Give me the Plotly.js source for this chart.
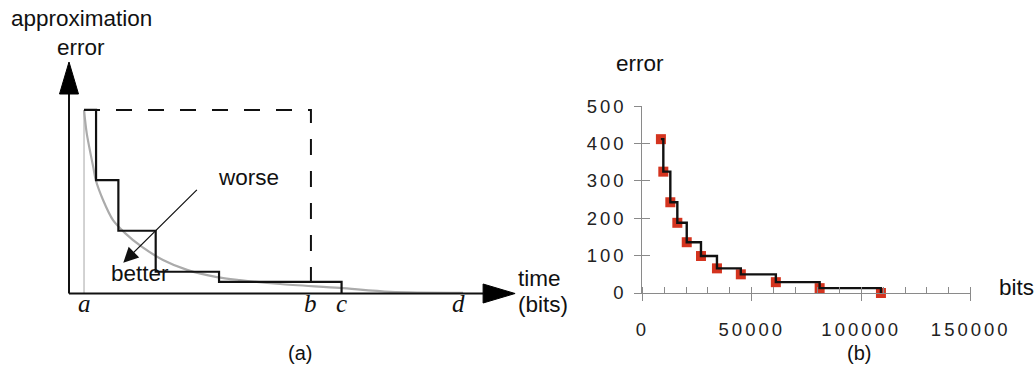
<!DOCTYPE html>
<html><head><meta charset="utf-8">
<script src="https://cdn.plot.ly/plotly-3.0.1.min.js"></script>
<style>
html,body{margin:0;padding:0;background:#fff;}
#chart{width:1036px;height:367px;}
.xtick text, .ytick text { letter-spacing: 3px; }
</style></head><body><div id="chart"></div>
<script>
// ---------- Panel (b): measured error vs bits ----------
const bitsValues  = [8500, 9600, 12800, 16000, 20300, 26800, 34100, 45000, 61000, 81000, 109000];
const errorValues = [412, 325, 243, 188, 136, 99, 66, 50, 29, 13, 0];
const bitsTickValues  = [0, 50000, 100000, 150000];
const bitsTickLabels  = ['0', '50000', '100000', '150000'];
const errorTickValues = [0, 100, 200, 300, 400, 500];
const errorTickLabels = ['0', '100', '200', '300', '400', '500'];

// ---------- Panel (a): schematic (abstract units) ----------
const stepTime  = [1.01, 1.82, 3.32, 5.83, 10.09, 18.33];
const stepError = [7.93, 4.90, 2.71, 0.94, 0.50, 0];
const curveTime  = [1.01, 1.19, 1.63, 1.80, 2.29, 2.96, 3.77, 4.91, 6.32, 7.94, 9.95, 11.5, 14.2, 18.2, 21.6, 26.5];
const curveError = [7.93, 6.93, 5.46, 4.90, 4.04, 3.17, 2.61, 2.01, 1.45, 1.02, 0.71, 0.58, 0.41, 0.24, 0.07, 0.03];
const markLabels = ['a', 'b', 'c', 'd'];
const markTimes  = [1.01, 16.27, 18.33, 26.2];
const boundError = 7.93;

// ---------- geometry helpers ----------
const W = 1036, H = 367;
const px = v => v / W;
const py = v => 1 - v / H;
// panel (a) axis placement
const A = {x0: 69, xs: 14.87, y0: 293.5, ys: 23.15, xr: [-2, 31], yr: [-1, 10.5], xEnd: 30, yEnd: 10};
const aXdom = [px(A.x0 + A.xr[0]*A.xs), px(A.x0 + A.xr[1]*A.xs)];
const aYdom = [py(A.y0 - A.yr[0]*A.ys), py(A.y0 - A.yr[1]*A.ys)];
const xHeadLen = 32 / A.xs, xHeadHalf = 9.5 / A.ys;
const yHeadLen = 32 / A.ys, yHeadHalf = 9.5 / A.xs;

const SANS = 'Liberation Sans, Arial, sans-serif';
const SERIF = 'Liberation Serif, Times New Roman, serif';
const axGray = '#8a8a8a';

const traces = [
  // panel (a)
  {x: [markTimes[0], markTimes[0]], y: [0, boundError], xaxis: 'x2', yaxis: 'y2', mode: 'lines',
   line: {color: '#c4c4c4', width: 1.5}, hoverinfo: 'skip', cliponaxis: false},
  {x: curveTime, y: curveError, xaxis: 'x2', yaxis: 'y2', mode: 'lines',
   line: {color: '#ababab', width: 2.2, shape: 'spline', smoothing: 0.8}, hoverinfo: 'skip', cliponaxis: false},
  {x: [markTimes[0], markTimes[1], markTimes[1]], y: [boundError, boundError, 0], xaxis: 'x2', yaxis: 'y2', mode: 'lines',
   line: {color: '#111', width: 2, dash: '16px,16px'}, hoverinfo: 'skip', cliponaxis: false},
  {x: stepTime, y: stepError, xaxis: 'x2', yaxis: 'y2', mode: 'lines',
   line: {color: '#111', width: 2.2, shape: 'hv'}, hoverinfo: 'skip', cliponaxis: false},
  // panel (b)
  {x: bitsValues, y: errorValues, xaxis: 'x', yaxis: 'y', mode: 'markers',
   marker: {symbol: 'square', size: 10, color: '#d4341f'}, cliponaxis: false},
  {x: bitsValues, y: errorValues, xaxis: 'x', yaxis: 'y', mode: 'lines',
   line: {color: '#111', width: 2.4, shape: 'hv'}, cliponaxis: false},
  // carriers for overlay tick axes
  {x: [], y: [], xaxis: 'x3', yaxis: 'y', mode: 'markers', hoverinfo: 'skip'},
  {x: [], y: [], xaxis: 'x', yaxis: 'y4', mode: 'markers', hoverinfo: 'skip'}
];

const tickFont = {family: SANS, size: 18.5, color: '#222'};
const bXdom = [px(642.3), px(970.7)];
const bYdom = [py(293), py(106.3)];

const layout = {
  width: W, height: H, margin: {l: 0, r: 0, t: 0, b: 0},
  paper_bgcolor: '#fff', plot_bgcolor: 'rgba(0,0,0,0)', showlegend: false,
  xaxis: {domain: bXdom, range: [0, 150000], anchor: 'y', tickvals: bitsTickValues, ticktext: bitsTickLabels,
          ticks: 'outside', ticklen: 7, tickwidth: 1, tickcolor: axGray, showline: true, linecolor: axGray, linewidth: 1,
          showgrid: false, zeroline: false, tickfont: tickFont, ticklabelstandoff: 13,
          minor: {dtick: 10000, tick0: 0, ticks: 'inside', ticklen: 6, tickcolor: axGray, tickwidth: 1, showgrid: false}},
  yaxis: {domain: bYdom, range: [0, 500], anchor: 'x', tickvals: errorTickValues, ticktext: errorTickLabels,
          ticks: 'outside', ticklen: 7, tickwidth: 1, tickcolor: axGray, showline: true, linecolor: axGray, linewidth: 1,
          showgrid: false, zeroline: false, tickfont: tickFont, ticklabelstandoff: 4},
  xaxis3: {overlaying: 'x', anchor: 'y', range: [0, 150000], tickvals: bitsTickValues, ticks: 'inside', ticklen: 6,
           tickcolor: axGray, tickwidth: 1, showticklabels: false, showgrid: false, zeroline: false, showline: false},
  yaxis4: {overlaying: 'y', anchor: 'x', range: [0, 500], tickvals: errorTickValues, ticks: 'inside', ticklen: 8,
           tickcolor: axGray, tickwidth: 1, showticklabels: false, showgrid: false, zeroline: false, showline: false},
  xaxis2: {domain: aXdom, range: A.xr, anchor: 'y2', visible: false},
  yaxis2: {domain: aYdom, range: A.yr, anchor: 'x2', visible: false},
  shapes: [
    {type: 'line', xref: 'x2', yref: 'y2', x0: 0, y0: 0, x1: A.xEnd - xHeadLen, y1: 0, line: {color: '#111', width: 2}},
    {type: 'line', xref: 'x2', yref: 'y2', x0: 0, y0: 0, x1: 0, y1: A.yEnd - yHeadLen, line: {color: '#111', width: 2}},
    {type: 'path', xref: 'x2', yref: 'y2',
     path: `M ${A.xEnd - xHeadLen},${-xHeadHalf} L ${A.xEnd},0 L ${A.xEnd - xHeadLen},${xHeadHalf} Z`,
     fillcolor: '#000', line: {color: '#000', width: 1}},
    {type: 'path', xref: 'x2', yref: 'y2',
     path: `M ${-yHeadHalf},${A.yEnd - yHeadLen} L 0,${A.yEnd} L ${yHeadHalf},${A.yEnd - yHeadLen} Z`,
     fillcolor: '#000', line: {color: '#000', width: 1}}
  ],
  annotations: []
};

const txt = (text, x, y, size, xanchor, family) => ({
  text, x: px(x), y: py(y), xref: 'paper', yref: 'paper', xanchor: xanchor || 'center', yanchor: 'middle',
  showarrow: false, font: {family: family || SANS, size: size, color: '#111'}
});
layout.annotations.push(
  txt('approximation', 81, 18.9, 22.5),
  txt('error', 80.5, 47.2, 22.5),
  txt('time', 516, 278.5, 22.5, 'left'),
  txt('(bits)', 516, 304.5, 22.5, 'left'),
  txt('worse', 216, 177.2, 22.5, 'left'),
  txt('better', 109, 273.9, 22.5, 'left'),
  txt('(a)', 300, 352.9, 20),
  txt('(b)', 859, 352.9, 20),
  txt('error', 639.5, 63.9, 22.5),
  txt('bits', 997, 287.2, 22.5, 'left')
);
markLabels.forEach((lab, i) => layout.annotations.push({
  text: '<i>' + lab + '</i>', x: markTimes[i], y: 0, xref: 'x2', yref: 'y2', xanchor: 'center', yanchor: 'middle',
  yshift: -10.1, showarrow: false, font: {family: SERIF, size: 25, color: '#111', style: 'italic'}
}));
// worse -> better arrow
layout.annotations.push({
  text: '', x: 3.65, y: 1.33, xref: 'x2', yref: 'y2', ax: 8.70, ay: 4.54, axref: 'x2', ayref: 'y2',
  showarrow: true, arrowhead: 2, arrowsize: 2.5, arrowwidth: 1.2, arrowcolor: '#111', standoff: 0
});

Plotly.newPlot('chart', traces, layout, {staticPlot: true, displayModeBar: false});
</script></body></html>
